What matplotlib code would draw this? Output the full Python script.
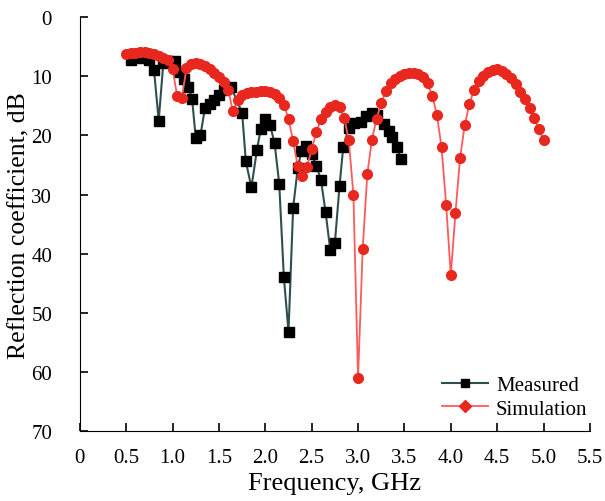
import numpy as np
import matplotlib.pyplot as plt
from matplotlib.lines import Line2D

plt.rcParams['font.family'] = ['Liberation Serif', 'DejaVu Serif']

# measured reflection coefficient (GHz, dB)
freq_meas = [0.55, 0.6, 0.7, 0.75, 0.8, 0.85, 0.9, 0.95, 1.03, 1.07, 1.12, 1.17,
             1.21, 1.25, 1.3, 1.35, 1.4, 1.45, 1.5, 1.55, 1.63, 1.75, 1.79, 1.85,
             1.91, 1.95, 2.0, 2.05, 2.1, 2.15, 2.2, 2.25, 2.3, 2.35, 2.39, 2.44,
             2.5, 2.55, 2.6, 2.65, 2.7, 2.75, 2.8, 2.84, 2.9, 2.96, 3.03, 3.09,
             3.15, 3.2, 3.28, 3.33, 3.37, 3.42, 3.46]
refl_meas = [7.3, 7.0, 7.0, 7.2, 9.0, 17.5, 7.8, 7.5, 7.5, 9.2, 10.4, 11.8,
             13.8, 20.5, 20.0, 15.3, 14.7, 14.0, 13.2, 12.3, 11.8, 16.2, 24.4, 28.8,
             22.4, 19.0, 17.2, 18.2, 21.3, 28.2, 44.0, 53.2, 32.2, 25.5, 22.6, 21.8,
             23.2, 25.1, 27.5, 33.0, 39.3, 38.2, 28.6, 22.0, 18.7, 17.9, 17.8, 16.8,
             16.2, 16.5, 18.1, 19.2, 20.3, 22.0, 24.0]

# simulated reflection coefficient
freq_sim = [0.5, 0.55, 0.6, 0.65, 0.7, 0.75, 0.8, 0.85, 0.9, 0.95, 1.0, 1.05,
            1.1, 1.15, 1.2, 1.25, 1.3, 1.35, 1.4, 1.45, 1.5, 1.55, 1.6, 1.65,
            1.7, 1.75, 1.8, 1.85, 1.9, 1.95, 2.0, 2.05, 2.1, 2.15, 2.2, 2.25,
            2.3, 2.35, 2.4, 2.45, 2.5, 2.55, 2.6, 2.65, 2.7, 2.75, 2.8, 2.85,
            2.9, 2.95, 3.0, 3.05, 3.1, 3.15, 3.2, 3.25, 3.3, 3.35, 3.4, 3.45,
            3.5, 3.55, 3.6, 3.65, 3.7, 3.75, 3.8, 3.85, 3.9, 3.95, 4.0, 4.05,
            4.1, 4.15, 4.2, 4.25, 4.3, 4.35, 4.4, 4.45, 4.5, 4.55, 4.6, 4.65,
            4.7, 4.75, 4.8, 4.85, 4.9, 4.95, 5.0]
refl_sim = [6.3, 6.1, 6.0, 5.9, 5.9, 6.0, 6.2, 6.5, 7.0, 7.3, 8.8, 13.4,
            13.6, 8.6, 8.0, 7.8, 7.9, 8.3, 8.8, 9.5, 10.2, 11.0, 12.3, 15.9,
            14.0, 13.2, 12.9, 12.7, 12.6, 12.5, 12.5, 12.6, 13.0, 13.6, 14.8, 17.2,
            21.0, 25.2, 26.8, 25.3, 22.3, 19.5, 17.3, 16.0, 15.2, 14.8, 15.2, 17.0,
            20.8, 30.0, 61.0, 39.2, 26.5, 20.7, 17.2, 14.5, 12.5, 11.2, 10.4, 9.9,
            9.6, 9.4, 9.4, 9.7, 10.2, 11.2, 13.3, 16.5, 22.0, 31.7, 43.6, 33.2,
            23.8, 18.3, 14.7, 12.3, 10.8, 9.9, 9.3, 8.9, 8.8, 9.1, 9.6, 10.3,
            11.3, 12.6, 13.8, 15.3, 17.0, 19.0, 20.8]

xticks = np.arange(0, 5.51, 0.5)
xlabels = ['0', '0.5', '1.0', '1.5', '2.0', '2.5', '3.0', '3.5', '4.0', '4.5', '5.0', '5.5']

meas_line = '#2f4f4f'
sim_line = '#ff5a5a'
sim_dot = '#e8281e'

fig = plt.figure(figsize=(6.05, 5.02), dpi=100)
ax = fig.add_axes([0.132, 0.139, 0.843, 0.825])

ax.plot(freq_meas, refl_meas, color=meas_line, lw=1.5, marker='s', ms=7,
        mfc='black', mec='black')
ax.plot(freq_sim, refl_sim, color=sim_line, lw=1.3, marker='o', ms=7,
        mfc=sim_dot, mec=sim_dot)

ax.set_xlim(0, 5.5)
ax.set_ylim(70, 0)
ax.set_xticks(xticks)
ax.set_xticklabels(xlabels)
ax.set_yticks(range(0, 71, 10))
ax.spines['top'].set_visible(False)
ax.spines['right'].set_visible(False)
ax.tick_params(direction='in', length=6, width=1.2, labelsize=15)
ax.tick_params(axis='x', pad=12)
ax.tick_params(axis='y', pad=20)
ax.set_xlabel('Frequency, GHz', fontsize=19, labelpad=4)
ax.set_ylabel('Reflection coefficient, dB', fontsize=18.5)
ax.yaxis.set_label_coords(-0.096, 0.5)

handles = [Line2D([], [], color=meas_line, lw=1.5, marker='s', ms=6,
                  mfc='black', mec='black'),
           Line2D([], [], color=sim_line, lw=1.3, marker='D', ms=6,
                  mfc=sim_dot, mec=sim_dot)]
ax.legend(handles, ['Measured', 'Simulation'], loc='lower right', frameon=False,
          fontsize=15, handlelength=2.2, borderaxespad=0.2, labelspacing=0.2,
          handletextpad=0.4, bbox_to_anchor=(1.02, 0.0))

fig.savefig('out.png', dpi=100)
